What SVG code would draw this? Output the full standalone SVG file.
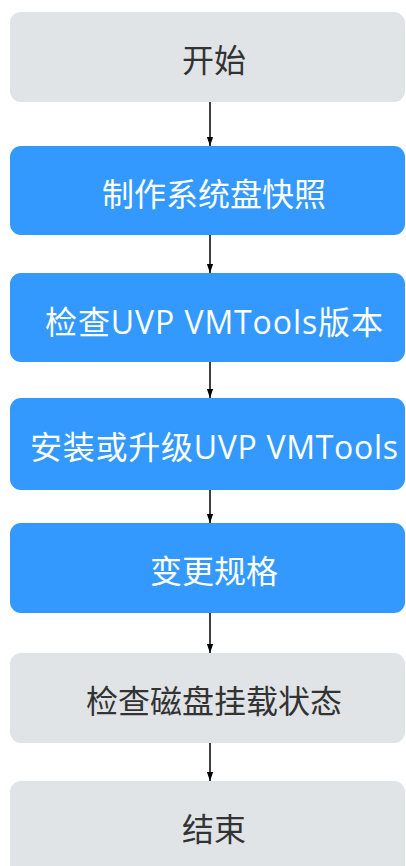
<svg xmlns="http://www.w3.org/2000/svg" width="406" height="866" viewBox="0 0 406 866">
<defs>
<style>
.g rect{fill:#e1e4e6}
.b rect{fill:#3399ff}
text{font-family:"Open Sans","Noto Sans CJK SC",sans-serif;font-size:32px;text-anchor:middle}
.g text{fill:#333}
.b text{fill:#fff}
.c line{stroke:#000;stroke-width:1.5}
</style>
<marker id="ah" markerWidth="9" markerHeight="13" refX="13" refY="4.5" orient="auto" markerUnits="userSpaceOnUse" viewBox="0 0 13 9">
<path d="M0,0 L13,4.5 L0,9 Z" fill="#000"/>
</marker>
</defs>
<g class="c">
<line x1="210" y1="102" x2="210" y2="146" marker-end="url(#ah)"/>
<line x1="210" y1="235" x2="210" y2="273" marker-end="url(#ah)"/>
<line x1="210" y1="362" x2="210" y2="398" marker-end="url(#ah)"/>
<line x1="210" y1="490" x2="210" y2="523" marker-end="url(#ah)"/>
<line x1="210" y1="613" x2="210" y2="653" marker-end="url(#ah)"/>
<line x1="210" y1="743" x2="210" y2="781" marker-end="url(#ah)"/>
</g>
<g id="start" class="g"><rect x="10" y="12" width="395" height="90" rx="11"/><text x="214" y="72">开始</text></g>
<g id="snapshot" class="b"><rect x="10" y="146" width="395" height="89" rx="11"/><text x="214" y="206">制作系统盘快照</text></g>
<g id="check" class="b"><rect x="10" y="273" width="395" height="89" rx="11"/><text x="214" y="334" textLength="338" lengthAdjust="spacing">检查UVP VMTools版本</text></g>
<g id="install" class="b"><rect x="10" y="398" width="395" height="92" rx="11"/><text x="214" y="459" textLength="368" lengthAdjust="spacing">安装或升级UVP VMTools</text></g>
<g id="resize" class="b"><rect x="10" y="523" width="395" height="90" rx="11"/><text x="214" y="583">变更规格</text></g>
<g id="disk" class="g"><rect x="10" y="653" width="395" height="90" rx="11"/><text x="214" y="713">检查磁盘挂载状态</text></g>
<g id="end" class="g"><rect x="10" y="781" width="395" height="95" rx="11"/><text x="214" y="841">结束</text></g>
</svg>
